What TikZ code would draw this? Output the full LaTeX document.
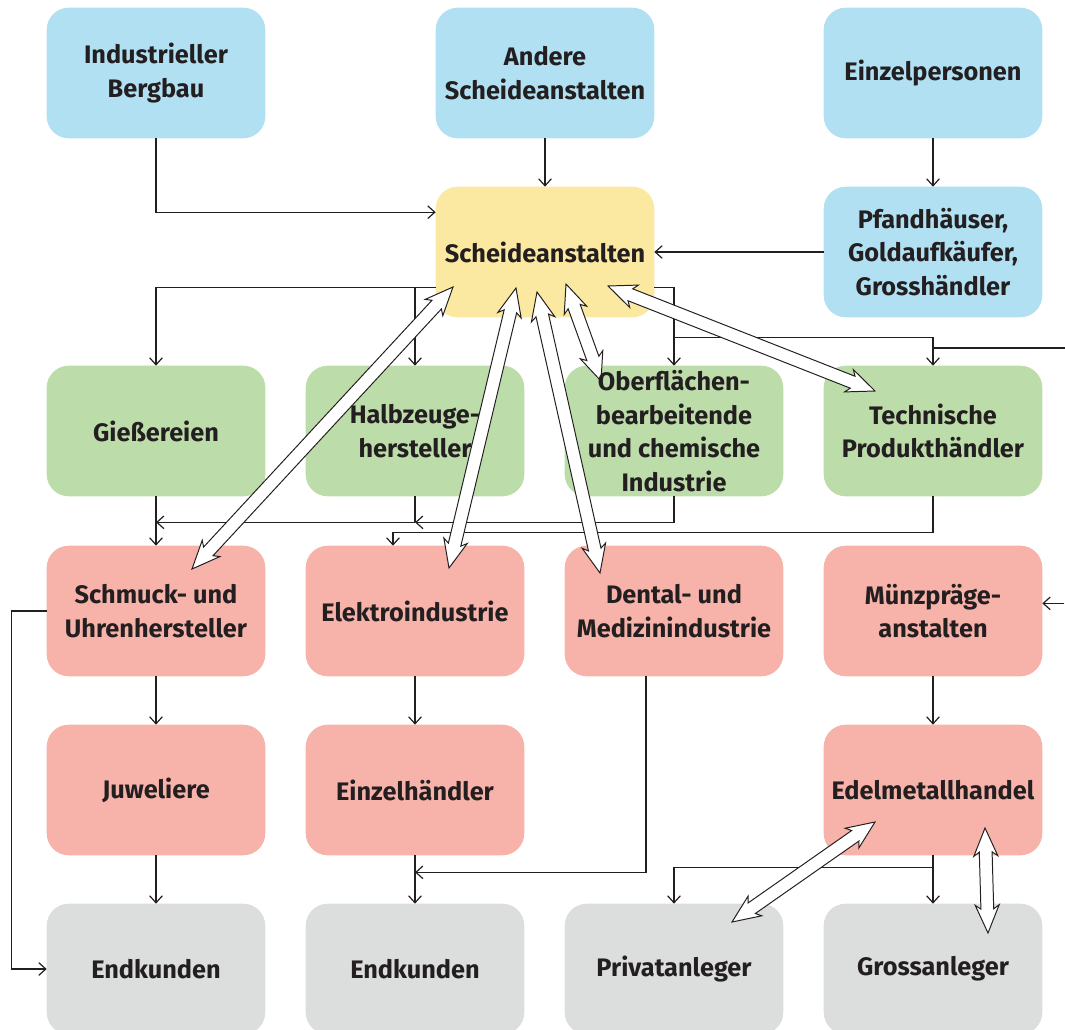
\documentclass[tikz,border=0pt]{standalone}
\usepackage{fontspec}
\setmainfont{Fira Sans}
\usetikzlibrary{arrows.meta,calc}
\definecolor{blau}{HTML}{B1E0F3}
\definecolor{gelb}{HTML}{FCE9A1}
\definecolor{gruen}{HTML}{BCDDAA}
\definecolor{rot}{HTML}{F7B2AA}
\definecolor{grau}{HTML}{DCDDDD}
\definecolor{schrift}{HTML}{231F20}
\pgfdeclarelayer{hinten}
\pgfdeclarelayer{mitte}
\pgfsetlayers{hinten,mitte,main}
\tikzset{
  kasten/.style={minimum width=5.45cm, minimum height=3.25cm, inner sep=0pt, align=center,
    text=schrift, font=\fontsize{18}{24}\selectfont\bfseries},
  fluss/.style={line width=0.85pt, draw=schrift, -{Straight Barb[length=5pt,width=9pt]}},
  hohl/.style={line width=0.7pt, draw=schrift, fill=white, line join=miter},
}
\begin{document}
\begin{tikzpicture}[x=0.025cm, y=-0.025cm]
  \useasboundingbox (0,0) rectangle (1065,1030);
  % Quellen
  \node[kasten] (bergbau) at (156,73) {Industrieller\\Bergbau};
  \node[kasten] (andere) at (545,73) {Andere\\Scheideanstalten};
  \node[kasten] (einzel) at (933,73) {Einzelpersonen};
  \node[kasten] (pfand) at (933,252) {Pfandhäuser,\\Goldaufkäufer,\\Grosshändler};
  \node[kasten] (scheide) at (545,252) {Scheideanstalten};
  % Verarbeitung
  \node[kasten] (giess) at (156,431) {Gießereien};
  \node[kasten] (halb) at (415,431) {Halbzeuge-\\hersteller};
  \node[kasten] (ober) at (674,431) {Oberflächen-\\bearbeitende\\und chemische\\Industrie};
  \node[kasten] (tech) at (933,431) {Technische\\Produkthändler};
  \node[kasten] (schmuck) at (156,611) {Schmuck- und\\Uhrenhersteller};
  \node[kasten] (elektro) at (415,611) {Elektroindustrie};
  \node[kasten] (dental) at (674,611) {Dental- und\\Medizinindustrie};
  \node[kasten] (muenz) at (933,611) {Münzpräge-\\anstalten};
  % Handel und Kunden
  \node[kasten] (juwel) at (156,790) {Juweliere};
  \node[kasten] (einzelh) at (415,790) {Einzelhändler};
  \node[kasten] (edel) at (933,790) {Edelmetallhandel};
  \node[kasten] (end1) at (156,969) {Endkunden};
  \node[kasten] (end2) at (415,969) {Endkunden};
  \node[kasten] (priv) at (674,969) {Privatanleger};
  \node[kasten] (gross) at (933,969) {Grossanleger};
  % Flaechen
  \begin{pgfonlayer}{hinten}
    \foreach \k/\f in {bergbau/blau, andere/blau, einzel/blau, pfand/blau, scheide/gelb,
        giess/gruen, halb/gruen, ober/gruen, tech/gruen, schmuck/rot, elektro/rot, dental/rot,
        muenz/rot, juwel/rot, einzelh/rot, edel/rot, end1/grau, end2/grau, priv/grau, gross/grau}
      \fill[\f, rounded corners=0.55cm] (\k.south west) rectangle (\k.north east);
  \end{pgfonlayer}
  \begin{pgfonlayer}{mitte}
  % oben
  \draw[fluss] (bergbau.south) |- (scheide.160);
  \draw[fluss] (andere.south) -- (scheide.north);
  \draw[fluss] (einzel.south) -- (pfand.north);
  \draw[fluss] (pfand.west) -- (scheide.east);
  \draw[fluss] (scheide.198) -| (giess.north);
  \draw[fluss] (halb.north |- scheide.198) -- (halb.north);
  \draw[fluss] (scheide.-18) -| (ober.north);
  \coordinate (k1) at ($(ober.north)+(0,-28)$);
  \draw[fluss] (k1) -| (tech.north);
  \coordinate (rand1) at (1065,348);
  \draw[fluss,-] (rand1) -- (tech.north |- rand1);
  % Mitte
  \draw[fluss] (giess.south) -- (schmuck.north);
  \coordinate (s1) at ($(halb.south)+(0,26)$);
  \draw[fluss,-] (halb.south) -- (s1);
  \draw[fluss] (ober.south) |- (s1);
  \draw[fluss] (s1) -- (giess.south |- s1);
  \coordinate (e1) at ($(elektro.north)+(-22,0)$);
  \draw[fluss] (tech.south) -- ++(0,36) -| (e1);
  \coordinate (rand2) at ($(muenz.4)+(22,0)$);
  \draw[fluss] (rand2) -- (muenz.4);
  % unten
  \draw[fluss] (schmuck.south) -- (juwel.north);
  \draw[fluss] (juwel.south) -- (end1.north);
  \draw[fluss] (schmuck.west) -- ++(-35,0) |- (end1.west);
  \draw[fluss] (elektro.south) -- (einzelh.north);
  \draw[fluss] (einzelh.south) -- (end2.north);
  \draw[fluss] ($(dental.south)+(-28,0)$) |- ($(einzelh.south)+(0,17)$);
  \draw[fluss] (muenz.south) -- (edel.north);
  \coordinate (v1) at ($(edel.south)+(0,12)$);
  \draw[fluss,-] (edel.south) -- (v1);
  \draw[fluss] (v1) -| (priv.north);
  \draw[fluss] (v1) -- (gross.north);
  % Hohlpfeile
  \coordinate (a1) at ($(scheide)+(-92,35)$);  \coordinate (b1) at ($(schmuck)+(36,-42)$);
  \coordinate (a2) at ($(scheide)+(-29,36)$);  \coordinate (b2) at ($(elektro)+(34,-43)$);
  \coordinate (a3) at ($(scheide)+(-8,40)$);   \coordinate (b3) at ($(dental)+(-74,-38)$);
  \coordinate (a4) at ($(scheide)+(21,32)$);   \coordinate (b4) at ($(ober)+(-73,-50)$);
  \coordinate (a5) at ($(scheide)+(63,34)$);   \coordinate (b5) at ($(tech)+(-58,-40)$);
  \coordinate (a6) at ($(edel)+(-58,32)$);     \coordinate (b6) at ($(priv)+(58,-47)$);
  \coordinate (a7) at ($(edel)+(52,38)$);      \coordinate (b7) at ($(gross)+(55,-36)$);
  \foreach \a/\b in {a1/b1, a2/b2, a3/b3, a4/b4, a5/b5, a6/b6, a7/b7} {
    \draw[hohl] (\a) -- ($(\a)!0.7cm!(\b)!0.3cm!90:(\b)$) -- ($(\a)!0.6cm!(\b)!0.16cm!90:(\b)$)
      -- ($(\b)!0.6cm!(\a)!0.16cm!-90:(\a)$) -- ($(\b)!0.7cm!(\a)!0.3cm!-90:(\a)$) -- (\b)
      -- ($(\b)!0.7cm!(\a)!0.3cm!90:(\a)$) -- ($(\b)!0.6cm!(\a)!0.16cm!90:(\a)$)
      -- ($(\a)!0.6cm!(\b)!0.16cm!-90:(\b)$) -- ($(\a)!0.7cm!(\b)!0.3cm!-90:(\b)$) -- cycle;
  }
  \end{pgfonlayer}
\end{tikzpicture}
\end{document}
